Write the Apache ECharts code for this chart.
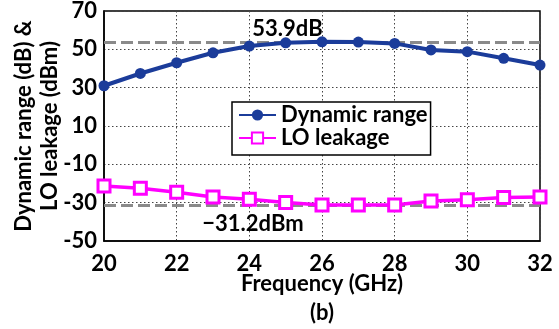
<!DOCTYPE html>
<html>
<head>
<meta charset="utf-8">
<script src="https://cdn.jsdelivr.net/npm/echarts@6/dist/echarts.min.js"></script>
<style>html,body{margin:0;padding:0;background:#fff;}#c{width:559px;height:329px;}</style>
</head>
<body>
<div id="c"></div>
<script>
var freq = [20, 21, 22, 23, 24, 25, 26, 27, 28, 29, 30, 31, 32];
var dynamicRange = [31.0, 37.4, 43.0, 48.2, 51.7, 53.4, 53.9, 53.8, 53.1, 49.7, 48.8, 45.3, 41.8];
var loLeakage = [-21.3, -22.5, -24.6, -27.1, -28.2, -29.9, -31.2, -31.2, -31.2, -29.1, -28.5, -27.3, -27.1];
var refDR = 53.9;
var refLO = -31.2;
var labelDR = '53.9dB';
var labelLO = '\u221231.2dBm';
var yTicks = [-50, -30, -10, 10, 30, 50, 70];
var xTicks = [20, 22, 24, 26, 28, 30, 32];

var FONT = 'Lato';
var FS = 22;
var chart = echarts.init(document.getElementById('c'), null, {renderer: 'canvas'});
function pairs(xs, ys) { return xs.map(function (x, i) { return [x, ys[i]]; }); }

var refLineStyle = {color: '#8a8a8a', type: [12, 5], width: 3};

chart.setOption({
  animation: false,
  backgroundColor: '#fff',
  textStyle: {fontFamily: FONT, fontWeight: 'bold', color: '#000'},
  grid: {left: 104, right: 19, top: 11, bottom: 88, show: true, borderColor: '#000', borderWidth: 1.5, backgroundColor: 'transparent', containLabel: false, outerBoundsMode: 'none'},
  xAxis: {
    type: 'value', min: xTicks[0], max: xTicks[xTicks.length - 1], interval: 2,
    name: 'Frequency (GHz)', nameLocation: 'middle', nameGap: 32, nameMoveOverlap: false,
    nameTextStyle: {fontFamily: FONT, fontWeight: 'bold', fontSize: FS, color: '#000'},
    axisLine: {show: true, onZero: false, lineStyle: {color: '#000', width: 1.5}},
    axisTick: {show: false},
    axisLabel: {fontFamily: FONT, fontWeight: 'bold', fontSize: FS, color: '#000', margin: 12},
    splitLine: {show: true, lineStyle: {color: '#444', type: [1.5, 2.5], width: 1}}
  },
  yAxis: {
    type: 'value', min: yTicks[0], max: yTicks[yTicks.length - 1], interval: 20,
    name: 'Dynamic range (dB) &\nLO leakage (dBm)', nameLocation: 'middle', nameGap: 41, nameRotate: 90, nameMoveOverlap: false,
    nameTextStyle: {fontFamily: FONT, fontWeight: 'bold', fontSize: FS, color: '#000', lineHeight: 26},
    axisLine: {show: true, onZero: false, lineStyle: {color: '#000', width: 1.5}},
    axisTick: {show: false},
    axisLabel: {fontFamily: FONT, fontWeight: 'bold', fontSize: FS, color: '#000', margin: 7},
    splitLine: {show: true, lineStyle: {color: '#444', type: [1.5, 2.5], width: 1}}
  },
  legend: {
    orient: 'vertical', left: 232, top: 102,
    backgroundColor: '#fff', borderColor: '#000', borderWidth: 1.5,
    padding: [2, 3, 6, 6], itemGap: 1, itemWidth: 37, itemHeight: 14,
    textStyle: {fontFamily: FONT, fontWeight: 'bold', fontSize: FS, color: '#000', lineHeight: 22},
    data: ['Dynamic range', 'LO leakage']
  },
  series: [
    {
      name: 'Dynamic range', type: 'line', data: pairs(freq, dynamicRange),
      symbol: 'circle', symbolSize: 11, z: 5,
      lineStyle: {color: '#1b3c9a', width: 4},
      itemStyle: {color: '#1b3c9a'},
      markLine: {silent: true, symbol: 'none', label: {show: false}, lineStyle: refLineStyle, z: 1, data: [{yAxis: refDR}]},
      markPoint: {silent: true, symbol: 'circle', symbolSize: 0,
        label: {show: true, position: 'inside', formatter: labelDR, fontFamily: FONT, fontWeight: 'bold', fontSize: FS, color: '#000'},
        data: [{coord: [25.05, 60.5]}]}
    },
    {
      name: 'LO leakage', type: 'line', data: pairs(freq, loLeakage),
      symbol: 'rect', symbolSize: 12, z: 5,
      lineStyle: {color: '#ff00ff', width: 3.5},
      itemStyle: {color: '#fff', borderColor: '#ff00ff', borderWidth: 3},
      markLine: {silent: true, symbol: 'none', label: {show: false}, lineStyle: refLineStyle, z: 1, data: [{yAxis: refLO}]},
      markPoint: {silent: true, symbol: 'circle', symbolSize: 0,
        label: {show: true, position: 'inside', formatter: labelLO, fontFamily: FONT, fontWeight: 'bold', fontSize: FS, color: '#000'},
        data: [{coord: [24.1, -41.3]}]}
    }
  ],
  graphic: [{type: 'text', x: 322, y: 313, style: {text: '(b)', font: 'bold 22px Lato', fill: '#000', align: 'center', verticalAlign: 'middle'}}]
});
</script>
</body>
</html>
